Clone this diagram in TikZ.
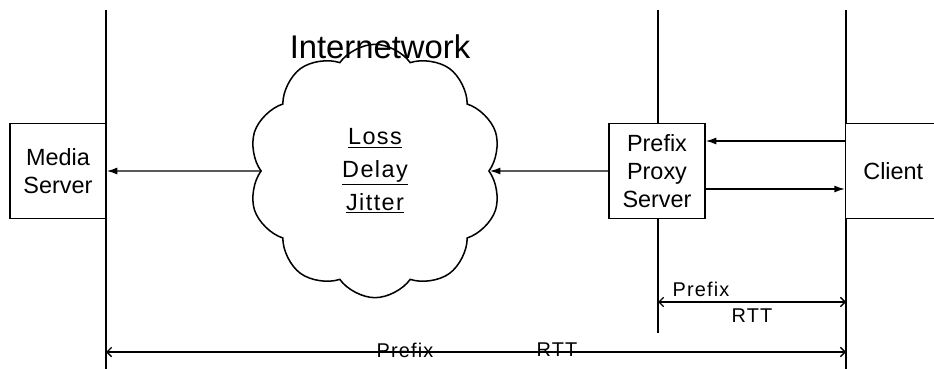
\documentclass[tikz,border=0pt]{standalone}
\usepackage{fontspec}
\setmainfont{Liberation Sans}
\newfontfamily\spacedfont[LetterSpace=6]{Liberation Sans}
\usetikzlibrary{shapes.symbols,arrows.meta}

\begin{document}
\begin{tikzpicture}[x=0.03cm, y=-0.03cm,
        box/.style={draw, line width=1.3pt, fill=white, minimum width=2.88cm, minimum height=2.85cm, align=center, font=\fontsize{20}{24}\selectfont},
        link/.style={-{Latex[length=9pt, width=6pt]}, line width=1.2pt},
        wire/.style={line width=1.4pt},
        span/.style={{Straight Barb[length=4pt, width=8pt]}-{Straight Barb[length=4pt, width=8pt]}, line width=1.1pt},
        lbl/.style={font=\spacedfont\fontsize{17}{20}\selectfont, inner sep=0pt}]
            \useasboundingbox (0,0) rectangle (934,369);

            % Vertical lines
            \coordinate (lt) at (106,10);
            \coordinate (lb) at (106,369);
            \coordinate (mt) at (658,10);
            \coordinate (mb) at (658,333);
            \coordinate (rt) at (846,10);
            \coordinate (rb) at (846,369);
            \draw[wire] (lt) -- (lb);
            \draw[wire] (mt) -- (mb);
            \draw[wire] (rt) -- (rb);

            % Boxes
            \node[box] (media) at (58,171) {Media\\Server};
            \node[box] (proxy) at (657,171) {Prefix\\Proxy\\Server};
            \node[box, minimum width=2.9cm, text width=2.5cm, align=left] (client) at (894,171) {\hspace*{0.33cm}Client};

            % Cloud
            \node[draw, cloud, cloud puffs=10, cloud puff arc=110, aspect=1, line width=1.3pt,
                  minimum width=7.6cm, minimum height=7.6cm, align=center,
                  font=\spacedfont\fontsize{20}{28}\selectfont] (net) at (375,171)
                  {\underline{Loss}\\\underline{Delay}\\\underline{Jitter}};
            \node[font=\fontsize{28}{32}\selectfont] (title) at (380,47) {Internetwork};

            % Arrows
            \draw[link] (proxy.west) -- (net.east);
            \draw[link] (net.west) -- (media.east);
            \draw[link] (client.west |- 0,141) -- (proxy.east |- 0,141);
            \draw[link] (proxy.east |- 0,189) -- (client.west |- 0,189);

            % RTT spans
            \coordinate (s1) at (658,302);
            \coordinate (s2) at (846,302);
            \coordinate (b1) at (106,352);
            \coordinate (b2) at (846,352);
            \draw[span] (s1) -- (s2);
            \draw[span] (b1) -- (b2);
            \node[lbl] (p1) at (701,289) {Prefix};
            \node[lbl] (r1) at (752,316) {RTT};
            \node[lbl] (p2) at (405,350) {Prefix};
            \node[lbl] (r2) at (557,350) {RTT};
\end{tikzpicture}
\end{document}
